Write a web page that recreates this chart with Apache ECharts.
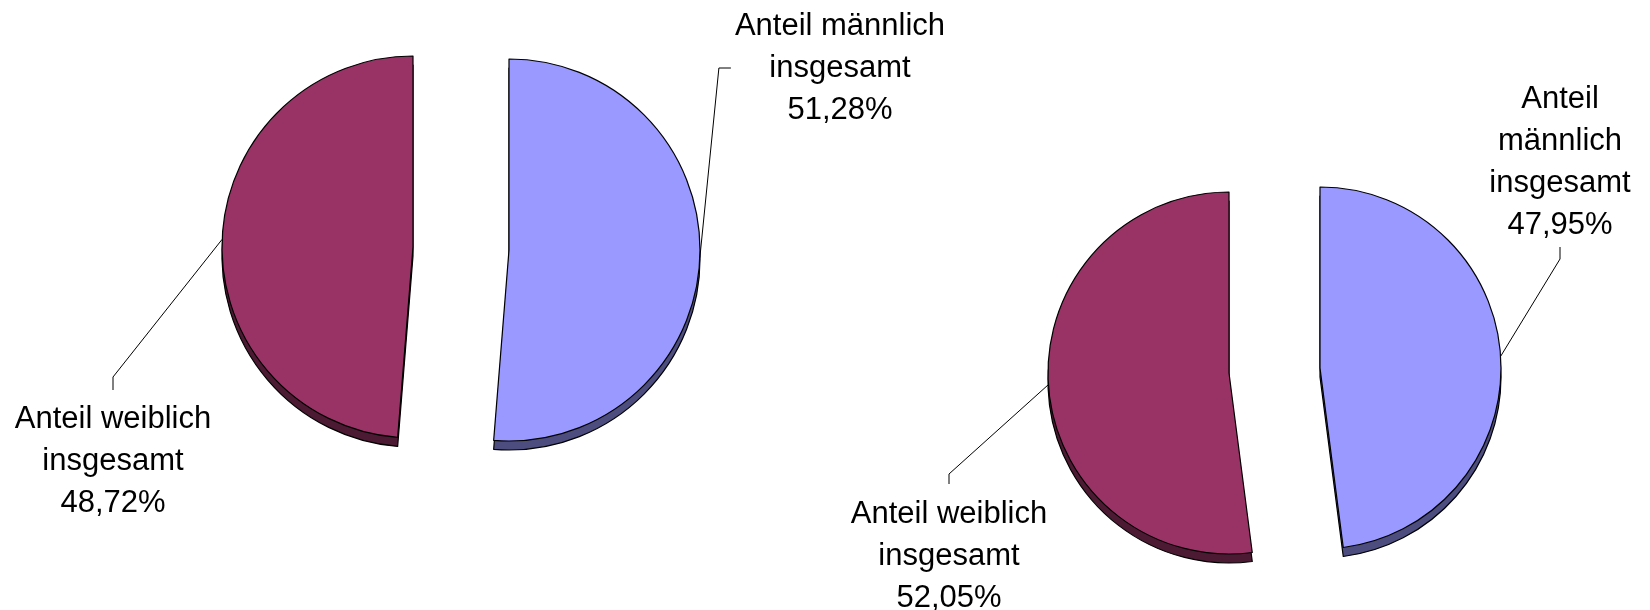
<!DOCTYPE html>
<html>
<head>
<meta charset="utf-8">
<script src="https://cdn.jsdelivr.net/npm/echarts/dist/echarts.min.js"></script>
<style>
  html, body { margin: 0; padding: 0; background: #fff; }
  #chart { width: 1650px; height: 610px; }
</style>
</head>
<body>
<div id="chart"></div>
<script>
// Daten
var categories = ['männlich', 'weiblich'];
var valuesLeft = [51.28, 48.72];
var valuesRight = [47.95, 52.05];
var namesLeft = ['Anteil männlich\ninsgesamt', 'Anteil weiblich\ninsgesamt'];
var namesRight = ['Anteil\nmännlich\ninsgesamt', 'Anteil weiblich\ninsgesamt'];

var faceColors = ['#9999FF', '#993366'];
var sideColors = ['#4D4D80', '#4D1A33'];
var depth = 9;
var lineH = 42;

// Layout je Torte: Mittelpunkt je Stück (explodiert), Radius, Beschriftung
var pies = [
    {
        values: valuesLeft, names: namesLeft, r: 191,
        centers: [[509, 250], [413, 247]],
        labels: [
            { x: 840, y: 68, side: 'left', a: 4, b: 16 },
            { x: 113, y: 461, side: 'top', a: 8, b: 21 }
        ]
    },
    {
        values: valuesRight, names: namesRight, r: 181,
        centers: [[1320, 368], [1229, 373]],
        labels: [
            { x: 1560, y: 162, side: 'bottom', a: 1, b: 13 },
            { x: 949, y: 556, side: 'top', a: 9, b: 19 }
        ]
    }
];

function fmt(v) {
    return v.toFixed(2).replace('.', ',') + '%';
}

var hidden = {
    itemStyle: { color: 'transparent', borderWidth: 0 },
    label: { show: false },
    labelLine: { show: false }
};

var depthSeries = [];
var frontSeries = [];

pies.forEach(function(p) {
    var total = p.values[0] + p.values[1];
    [0, 1].forEach(function(k) {
        var c = p.centers[k];
        var before = k === 0 ? 0 : p.values[0];
        var mid = 2 * Math.PI * (before + p.values[k] / 2) / total;
        var edge = [c[0] + p.r * Math.sin(mid), c[1] - p.r * Math.cos(mid)];
        var lab = p.labels[k];

        function makeData(isFront) {
            return p.values.map(function(v, i) {
                if (i !== k) {
                    return Object.assign({ name: categories[i], value: v }, hidden);
                }
                var item = {
                    name: p.names[i],
                    value: v,
                    itemStyle: {
                        color: isFront ? faceColors[i] : sideColors[i],
                        borderColor: '#000',
                        borderWidth: 1.2
                    }
                };
                if (!isFront) {
                    item.label = { show: false };
                    item.labelLine = { show: false };
                }
                return item;
            });
        }

        depthSeries.push({
            type: 'pie',
            radius: p.r,
            center: [c[0], c[1] + depth],
            startAngle: 90,
            clockwise: true,
            silent: true,
            animation: false,
            label: { show: false },
            labelLine: { show: false },
            data: makeData(false)
        });

        frontSeries.push({
            type: 'pie',
            radius: p.r,
            center: c,
            startAngle: 90,
            clockwise: true,
            silent: true,
            animation: false,
            avoidLabelOverlap: false,
            label: {
                show: true,
                position: 'outside',
                color: '#000',
                fontFamily: 'Liberation Sans, Arial, sans-serif',
                fontSize: 31,
                lineHeight: lineH,
                align: 'center',
                formatter: function(d) { return d.name + '\n' + fmt(d.value); }
            },
            labelLine: {
                show: true,
                length: 10,
                length2: 10,
                lineStyle: { color: '#000', width: 1 }
            },
            labelLayout: function(params) {
                if (params.dataIndex !== k) return {};
                var w = params.labelRect.width;
                var h = params.labelRect.height;
                var p1, p2;
                if (lab.side === 'left') {
                    p2 = [lab.x - w / 2 - lab.a, lab.y];
                    p1 = [p2[0] - (lab.b - lab.a), lab.y];
                } else if (lab.side === 'top') {
                    p2 = [lab.x, lab.y - h / 2 - lab.a];
                    p1 = [lab.x, lab.y - h / 2 - lab.b];
                } else {
                    p2 = [lab.x, lab.y + h / 2 + lab.a];
                    p1 = [lab.x, lab.y + h / 2 + lab.b];
                }
                return {
                    x: lab.x,
                    y: lab.y,
                    align: 'center',
                    verticalAlign: 'middle',
                    labelLinePoints: [edge, p1, p2]
                };
            },
            data: makeData(true)
        });
    });
});

var chart = echarts.init(document.getElementById('chart'));
chart.setOption({
    backgroundColor: '#fff',
    animation: false,
    series: depthSeries.concat(frontSeries)
});
</script>
</body>
</html>
